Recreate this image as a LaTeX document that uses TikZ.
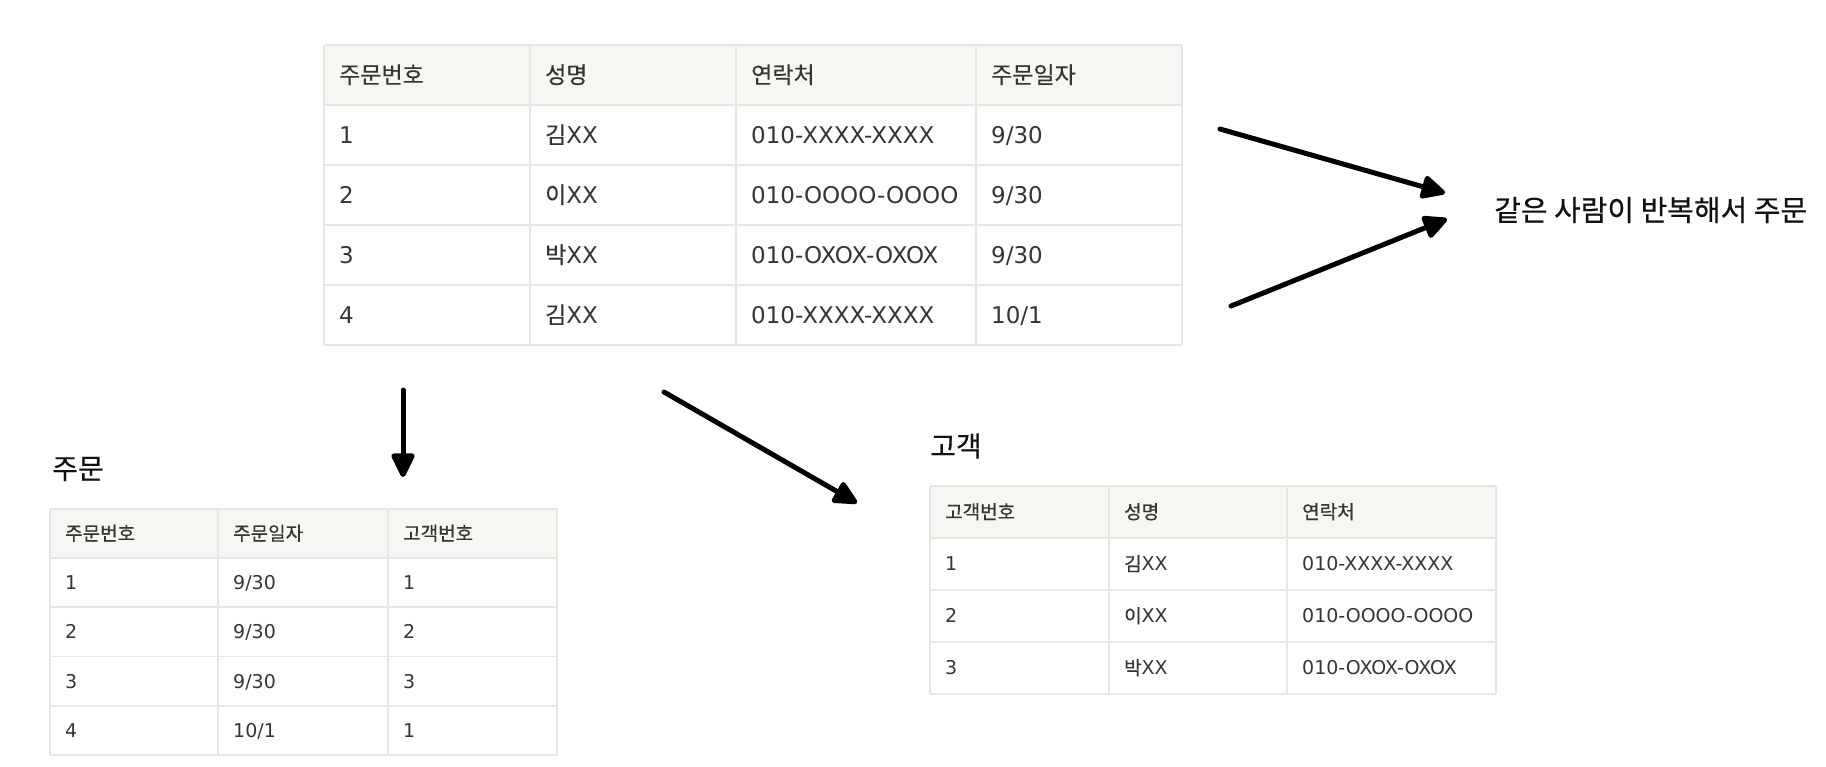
\documentclass[tikz,border=0pt]{standalone}
\usepackage{fontspec}
\setmainfont{DejaVu Sans}
\newfontfamily\kr[Scale=1.0,FakeBold=0.4]{Noto Sans CJK KR}
\usetikzlibrary{arrows.meta}
\definecolor{txt}{HTML}{37352F}
\definecolor{headc}{HTML}{F7F6F3}
\definecolor{gridc}{HTML}{E6E6E4}
\definecolor{ink}{HTML}{111111}
\tikzset{
  cellbig/.style={anchor=base west, inner sep=0pt, text=txt, font=\fontsize{23}{23}\selectfont},
  cellsmall/.style={anchor=base west, inner sep=0pt, text=txt, font=\fontsize{19}{19}\selectfont},
  titletext/.style={anchor=west, inner sep=0pt, text=ink, font=\fontsize{28}{28}\selectfont\kr},
  gridline/.style={draw=gridc, line width=1.6pt},
  headfill/.style={fill=headc},
  arr/.style={draw=black, line width=5pt, line cap=round,
    -{Triangle[length=27pt,width=25pt,round]}},
}
\begin{document}
\begin{tikzpicture}[x=1pt,y=-1pt]
\useasboundingbox[fill=white] (0,0) rectangle (1826,766);

% ---------------- top table ----------------
\fill[headfill] (324,45) rectangle (1182,105);
\foreach \yy in {45,105,165,225,285,345} \draw[gridline] (324,\yy) -- (1182,\yy);
\foreach \xx in {324,530,736,976,1182} \draw[gridline] (\xx,45) -- (\xx,345);

\foreach \txt [count=\i] in {{\kr 주문번호},{\kr 성명},{\kr 연락처},{\kr 주문일자}}{
  \pgfmathsetmacro{\cx}{{324,530,736,976}[\i-1]+15}
  \node[cellbig] (top-h\i) at (\cx,83.3) {\txt};
}
\foreach \ra/\rb/\rc/\rd [count=\r] in {
  1/{\kr 김}XX/010-XXXX-XXXX/9\slash 30,
  2/{\kr 이}XX/010-OOOO-OOOO/9\slash 30,
  3/{\kr 박}XX/010-OXOX-OXOX/9\slash 30,
  4/{\kr 김}XX/010-XXXX-XXXX/10\slash 1}{
  \pgfmathsetmacro{\cy}{105+60*(\r-1)+30+8.3}
  \node[cellbig] (top-r\r a) at (339,\cy) {\ra};
  \node[cellbig] (top-r\r b) at (545,\cy) {\rb};
  \node[cellbig] (top-r\r c) at (751,\cy) {\rc};
  \node[cellbig] (top-r\r d) at (991,\cy) {\rd};
}

% ---------------- label right ----------------
\node[titletext, font=\fontsize{29}{29}\selectfont\kr] (same) at (1494,210) {같은 사람이 반복해서 주문};

% ---------------- bottom-left table ----------------
\node[titletext] (ordtitle) at (52,469) {주문};
\fill[headfill] (50,509) rectangle (557,558);
\foreach \yy in {509,558,607.25,656.5,705.75,755} \draw[gridline] (50,\yy) -- (557,\yy);
\foreach \xx in {50,218,388,557} \draw[gridline] (\xx,509) -- (\xx,755);
\node[cellsmall] (ord-h1) at (65,540.4) {\kr 주문번호};
\node[cellsmall] (ord-h2) at (233,540.4) {\kr 주문일자};
\node[cellsmall] (ord-h3) at (403,540.4) {\kr 고객번호};
\foreach \ra/\rb/\rc [count=\r] in {1/9\slash 30/1, 2/9\slash 30/2, 3/9\slash 30/3, 4/10\slash 1/1}{
  \pgfmathsetmacro{\cy}{558+49.25*(\r-1)+24.6+6.9}
  \node[cellsmall] (ord-r\r a) at (65,\cy) {\ra};
  \node[cellsmall] (ord-r\r b) at (233,\cy) {\rb};
  \node[cellsmall] (ord-r\r c) at (403,\cy) {\rc};
}

% ---------------- bottom-right table ----------------
\node[titletext] (custtitle) at (930,446) {고객};
\fill[headfill] (930,486) rectangle (1496,538);
\foreach \yy in {486,538,590,642,694} \draw[gridline] (930,\yy) -- (1496,\yy);
\foreach \xx in {930,1109,1287,1496} \draw[gridline] (\xx,486) -- (\xx,694);
\node[cellsmall] (cus-h1) at (945,518.9) {\kr 고객번호};
\node[cellsmall] (cus-h2) at (1124,518.9) {\kr 성명};
\node[cellsmall] (cus-h3) at (1302,518.9) {\kr 연락처};
\foreach \ra/\rb/\rc [count=\r] in {
  1/{\kr 김}XX/010-XXXX-XXXX,
  2/{\kr 이}XX/010-OOOO-OOOO,
  3/{\kr 박}XX/010-OXOX-OXOX}{
  \pgfmathsetmacro{\cy}{538+52*(\r-1)+26+6.9}
  \node[cellsmall] (cus-r\r a) at (945,\cy) {\ra};
  \node[cellsmall] (cus-r\r b) at (1124,\cy) {\rb};
  \node[cellsmall] (cus-r\r c) at (1302,\cy) {\rc};
}

% ---------------- arrows ----------------
\coordinate (a1s) at (1220,129);
\coordinate (a1e) at (1445,193);
\coordinate (a2s) at (1231,306);
\coordinate (a2e) at (1447,219);
\coordinate (d1s) at (403,390);
\coordinate (d1e) at (403,477);
\coordinate (d2s) at (664,392);
\coordinate (d2e) at (857,503);
\draw[arr] (a1s) -- (a1e);
\draw[arr] (a2s) -- (a2e);
\draw[arr] (d1s) -- (d1e);
\draw[arr] (d2s) -- (d2e);
\end{tikzpicture}
\end{document}
